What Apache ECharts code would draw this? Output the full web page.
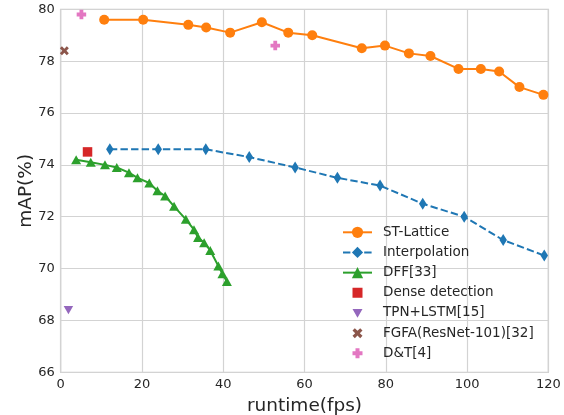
<!DOCTYPE html>
<html><head><meta charset="utf-8">
<script src="https://cdn.jsdelivr.net/npm/echarts@6/dist/echarts.min.js"></script>
<style>html,body{margin:0;padding:0;background:#fff}#c{width:564px;height:415px}</style>
</head><body><div id="c"></div><script>
// ---- data ----
const stLatticeX = [10.7, 20.3, 31.4, 35.8, 41.7, 49.5, 56.0, 61.9, 74.1, 79.8, 85.7, 91.0, 97.9, 103.4, 107.9, 112.9, 118.8];
const stLatticeY = [79.6, 79.6, 79.4, 79.3, 79.1, 79.5, 79.1, 79.0, 78.5, 78.6, 78.3, 78.2, 77.7, 77.7, 77.6, 77.0, 76.7];
const interpX = [12.1, 24.0, 35.7, 46.4, 57.7, 68.1, 78.6, 89.1, 99.3, 108.9, 119.0];
const interpY = [74.6, 74.6, 74.6, 74.3, 73.9, 73.5, 73.2, 72.5, 72.0, 71.1, 70.5];
const dffX = [3.8, 7.4, 10.9, 13.8, 16.8, 18.9, 21.8, 23.8, 25.7, 27.9, 30.8, 32.8, 33.8, 35.3, 36.8, 38.8, 39.8, 40.9];
const dffY = [74.2, 74.1, 74.0, 73.9, 73.7, 73.5, 73.3, 73.0, 72.8, 72.4, 71.9, 71.5, 71.2, 71.0, 70.7, 70.1, 69.8, 69.5];
const denseX = [6.6];   const denseY = [74.5];
const tpnX = [1.9];     const tpnY = [68.4];
const fgfaX = [0.9];    const fgfaY = [78.4];
const dtX = [5.1, 52.8]; const dtY = [79.8, 78.6];
const seriesNames = ['ST-Lattice', 'Interpolation', 'DFF[33]', 'Dense detection', 'TPN+LSTM[15]', 'FGFA(ResNet-101)[32]', 'D&T[4]'];
const xTicks = [0, 20, 40, 60, 80, 100, 120];
const yTicks = [66, 68, 70, 72, 74, 76, 78, 80];
const xLabel = 'runtime(fps)';
const yLabel = 'mAP(%)';

// ---- styling ----
const zip = (a, b) => a.map((v, i) => [v, b[i]]);
const C = {orange:'#ff7f0e', blue:'#1f77b4', green:'#2ca02c', red:'#d62728', purple:'#9467bd', brown:'#8c564b', pink:'#e377c2'};
const shapes = {
  square: 'M2 2H12V12H2Z',
  down: 'M2 3H12L7 11.8Z',
  xmark: 'M2 4.3L4.3 2L7 4.7L9.7 2L12 4.3L9.3 7L12 9.7L9.7 12L7 9.3L4.3 12L2 9.7L4.7 7Z',
  plus: 'M5 2H9V5H12V9H9V12H5V9H2V5H5Z'
};
const pad = 'M0 0Z M14 14Z ';
const FONT = 'DejaVu Sans';
const TXT = '#262626';

const chart = echarts.init(document.getElementById('c'), null, {renderer: 'canvas'});
chart.setOption({
  animation: false,
  backgroundColor: '#fff',
  textStyle: {fontFamily: FONT},
  grid: {left: 60.7, right: 15.7, top: 9.3, bottom: 42.7, show: true, borderColor: '#cccccc', borderWidth: 1.25,
         containLabel: false, outerBoundsMode: 'none'},
  xAxis: {
    type: 'value', min: xTicks[0], max: xTicks[xTicks.length - 1], interval: 20,
    name: xLabel, nameLocation: 'middle', nameGap: 24, nameMoveOverlap: false,
    nameTextStyle: {fontFamily: FONT, fontSize: 18.5, color: TXT},
    axisLine: {show: false}, axisTick: {show: false},
    axisLabel: {fontFamily: FONT, fontSize: 13, color: TXT, margin: 6},
    splitLine: {show: true, lineStyle: {color: '#d3d3d3', width: 1.2}}
  },
  yAxis: {
    type: 'value', min: yTicks[0], max: yTicks[yTicks.length - 1], interval: 2,
    name: yLabel, nameLocation: 'middle', nameGap: 25, nameRotate: 90, nameMoveOverlap: false,
    nameTextStyle: {fontFamily: FONT, fontSize: 18.5, color: TXT},
    axisLine: {show: false}, axisTick: {show: false},
    axisLabel: {fontFamily: FONT, fontSize: 13, color: TXT, margin: 6},
    splitLine: {show: true, lineStyle: {color: '#d3d3d3', width: 1.2}}
  },
  legend: {
    orient: 'vertical', left: 342, top: 225.3, padding: 0,
    itemWidth: 29, itemHeight: 14, itemGap: 6.17,
    textStyle: {fontFamily: FONT, fontSize: 13.5, color: TXT, padding: [0, 0, 0, 6]},
    data: [
      {name: seriesNames[0]},
      {name: seriesNames[1]},
      {name: seriesNames[2]},
      {name: seriesNames[3], icon: 'path://' + pad + shapes.square},
      {name: seriesNames[4], icon: 'path://' + pad + shapes.down},
      {name: seriesNames[5], icon: 'path://' + pad + shapes.xmark},
      {name: seriesNames[6], icon: 'path://' + pad + shapes.plus}
    ]
  },
  series: [
    {name: seriesNames[0], type: 'line', data: zip(stLatticeX, stLatticeY), symbol: 'circle', symbolSize: 10, showAllSymbol: true,
     lineStyle: {color: C.orange, width: 2}, itemStyle: {color: C.orange}, z: 3},
    {name: seriesNames[1], type: 'line', data: zip(interpX, interpY), symbol: 'diamond', symbolSize: [7.5, 12], showAllSymbol: true,
     lineStyle: {color: C.blue, width: 2, type: [7.4, 3.2]}, itemStyle: {color: C.blue}, z: 3},
    {name: seriesNames[2], type: 'line', data: zip(dffX, dffY), symbol: 'triangle', symbolSize: [10, 9], showAllSymbol: true,
     lineStyle: {color: C.green, width: 2}, itemStyle: {color: C.green}, z: 3},
    {name: seriesNames[3], type: 'scatter', data: zip(denseX, denseY), symbol: 'path://' + shapes.square, symbolSize: 9.5, symbolKeepAspect: true,
     itemStyle: {color: C.red, opacity: 1}, z: 4},
    {name: seriesNames[4], type: 'scatter', data: zip(tpnX, tpnY), symbol: 'path://' + shapes.down, symbolSize: 9.5, symbolKeepAspect: true,
     itemStyle: {color: C.purple, opacity: 1}, z: 4},
    {name: seriesNames[5], type: 'scatter', data: zip(fgfaX, fgfaY), symbol: 'path://' + shapes.xmark, symbolSize: 9, symbolKeepAspect: true,
     itemStyle: {color: C.brown, opacity: 1}, z: 4},
    {name: seriesNames[6], type: 'scatter', data: zip(dtX, dtY), symbol: 'path://' + shapes.plus, symbolSize: 9.5, symbolKeepAspect: true,
     itemStyle: {color: C.pink, opacity: 1}, z: 4}
  ]
});
</script></body></html>
